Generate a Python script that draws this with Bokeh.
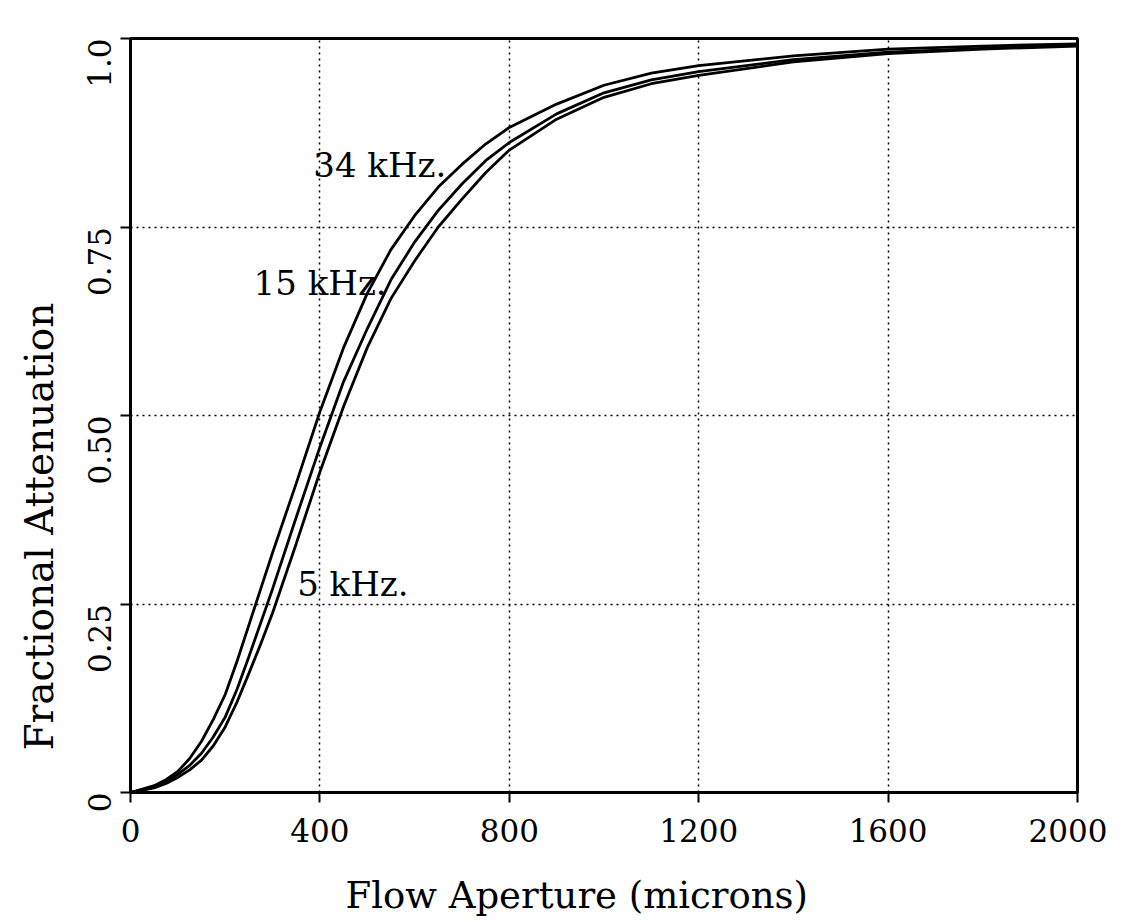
import math
from bokeh.plotting import figure
from bokeh.models import FixedTicker, Range1d, Title
from bokeh.core.properties import value
from bokeh.embed import file_html
from bokeh.resources import INLINE

# Flow aperture (microns)
aperture = [0, 50, 75, 100, 125, 150, 175, 200, 225, 250, 275, 300, 350, 400, 450, 500, 550,
            600, 650, 700, 750, 800, 900, 1000, 1100, 1200, 1400, 1600, 1800, 2000]
# Fractional attenuation for each frequency
atten_34k = [0, 0.009, 0.017, 0.028, 0.045, 0.068, 0.097, 0.13, 0.174, 0.222, 0.27, 0.318,
             0.41, 0.505, 0.59, 0.662, 0.72, 0.765, 0.803, 0.833, 0.86, 0.882, 0.913, 0.938,
             0.954, 0.964, 0.977, 0.986, 0.99, 0.993]
atten_15k = [0, 0.007, 0.014, 0.024, 0.036, 0.052, 0.074, 0.10, 0.137, 0.18, 0.225, 0.27,
             0.365, 0.458, 0.545, 0.615, 0.68, 0.73, 0.772, 0.807, 0.838, 0.862, 0.90, 0.928,
             0.945, 0.956, 0.972, 0.982, 0.987, 0.991]
atten_5k = [0, 0.006, 0.012, 0.02, 0.03, 0.043, 0.062, 0.087, 0.12, 0.158, 0.197, 0.238,
            0.33, 0.425, 0.512, 0.59, 0.655, 0.705, 0.75, 0.787, 0.822, 0.852, 0.893, 0.922,
            0.94, 0.951, 0.969, 0.98, 0.986, 0.99]

labels = ["34 kHz.", "15 kHz.", "5 kHz."]
label_x = [386, 260, 352]
label_y = [0.832, 0.676, 0.277]

x_ticks = [0, 400, 800, 1200, 1600, 2000]
y_ticks = [0, 0.25, 0.5, 0.75, 1.0]
y_tick_text = {0: "0", 0.25: "0.25", 0.5: "0.50", 0.75: "0.75", 1.0: "1.0"}
x_title = "Flow Aperture (microns)"
y_title = "Fractional Attenuation"

FONT = "DejaVu Serif"

p = figure(frame_width=947, frame_height=754, output_backend="svg", toolbar_location=None,
           x_range=Range1d(0, 2000), y_range=Range1d(0, 1.0),
           min_border_left=130, min_border_top=38, min_border_bottom=128, min_border_right=30)

p.outline_line_color = "black"
p.outline_line_width = 3
p.background_fill_color = "white"
p.border_fill_color = "white"

for ys in (atten_34k, atten_15k, atten_5k):
    p.line(aperture, ys, line_color="black", line_width=2.8)

p.text(x=label_x, y=label_y, text=labels, text_font=value(FONT), text_font_size="34px",
       text_color="black", text_baseline="alphabetic", text_align="left")

p.xaxis.ticker = FixedTicker(ticks=x_ticks)
p.yaxis.ticker = FixedTicker(ticks=y_ticks)
p.yaxis.major_label_overrides = y_tick_text
p.yaxis.major_label_orientation = math.pi / 2

for ax in (p.xaxis, p.yaxis):
    ax.axis_line_color = "black"
    ax.axis_line_width = 3
    ax.major_tick_line_color = "black"
    ax.major_tick_line_width = 2
    ax.major_tick_out = 10
    ax.major_tick_in = 0
    ax.minor_tick_line_color = None
    ax.major_label_text_font = FONT
    ax.major_label_text_font_size = "31px"
    ax.major_label_text_color = "black"

p.xaxis.major_label_standoff = 16
p.yaxis.major_label_standoff = 21

# axis titles, placed off-centre as in the original
p.add_layout(Title(text=x_title, align="left", offset=215, vertical_align="top", standoff=58,
                   text_font=FONT, text_font_size="37px", text_font_style="normal",
                   text_color="black"), "below")
p.add_layout(Title(text=y_title, align="left", offset=42, vertical_align="bottom", standoff=24,
                   text_font=FONT, text_font_size="39px", text_font_style="normal",
                   text_color="black"), "left")

p.xgrid.ticker = FixedTicker(ticks=[400, 800, 1200, 1600])
p.ygrid.ticker = FixedTicker(ticks=[0.25, 0.5, 0.75])
for g in (p.xgrid, p.ygrid):
    g.grid_line_color = "black"
    g.grid_line_width = 1.5
    g.grid_line_dash = "2 4"

open("out.html", "w").write(file_html(p, INLINE))
